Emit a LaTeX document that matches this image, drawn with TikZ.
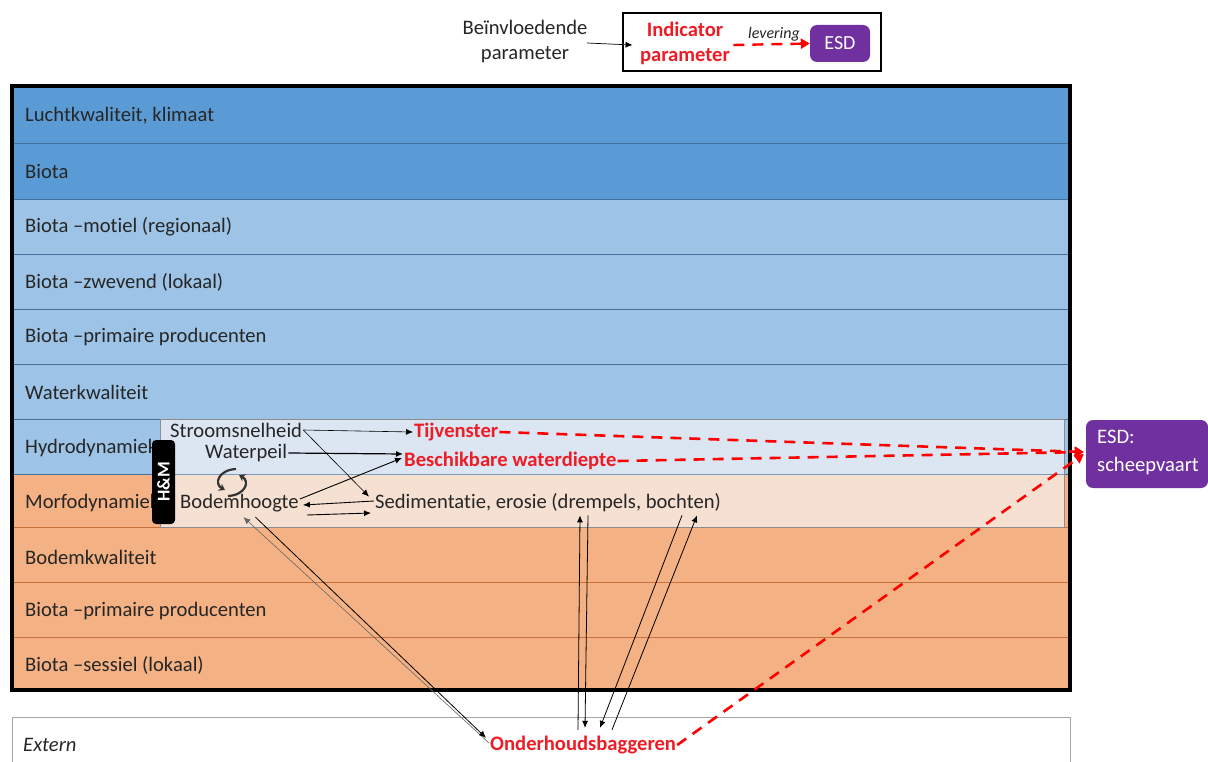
\documentclass[tikz,border=0pt]{standalone}
\usepackage{fontspec}
\setmainfont{Carlito}[Ligatures=NoCommon]
\usetikzlibrary{arrows.meta,calc}
\definecolor{dblue}{HTML}{5B9BD5}
\definecolor{lblue}{HTML}{9DC3E6}
\definecolor{pblue}{HTML}{DCE6F2}
\definecolor{orng}{HTML}{F4B183}
\definecolor{porng}{HTML}{F6E0D2}
\definecolor{bline}{HTML}{41719C}
\definecolor{oline}{HTML}{C8703A}
\definecolor{rtxt}{HTML}{EE1C25}
\definecolor{purp}{HTML}{7030A0}
\tikzset{
  bandlbl/.style={anchor=west, inner sep=0pt, font=\fontsize{20.6}{24}\selectfont, text=black!85},
  lbl/.style={anchor=west, inner sep=1pt, font=\fontsize{20.6}{24}\selectfont, text=black!85},
  rlbl/.style={anchor=west, inner sep=1pt, font=\fontsize{20.6}{24}\selectfont\bfseries, text=rtxt},
  arr/.style={-{Latex[length=7pt,width=6pt]}, line width=0.9pt},
  garr/.style={-{Latex[length=7pt,width=6pt]}, line width=0.6pt, draw=black!60},
  rdash/.style={draw=red, line width=2.6pt, dash pattern=on 11pt off 8pt, -{Triangle[length=9pt,width=10pt]}},
  esdbox/.style={fill=purp, rounded corners=7pt, text=white, font=\fontsize{20}{24}\selectfont},
}
\begin{document}
\begin{tikzpicture}[x=1pt,y=-1pt]
\useasboundingbox (0,0) rectangle (1208,762);
% bands
\fill[dblue] (12,86) rectangle (1070,199);
\fill[lblue] (12,199) rectangle (1070,474);
\fill[orng] (12,474) rectangle (1070,690);
\foreach \y in {143,199,254,309,364,419,474} \draw[bline,line width=0.8pt] (12,\y) -- (1070,\y);
\foreach \y in {527,582,637} \draw[oline,line width=0.8pt] (12,\y) -- (1070,\y);
% inner pane
\fill[pblue] (160,419) rectangle (1064,474);
\fill[porng] (160,474) rectangle (1064,527);
\draw[black!45,line width=0.7pt] (160,419) rectangle (1064,527);
\draw[bline!70,line width=0.6pt] (160,474) -- (1064,474);
% frame
\draw[line width=4pt] (12,86) rectangle (1070,690);
% extern
\draw[black!35,fill=white,line width=1pt] (12,717) -- (1070,717) -- (1070,770) (12,770) -- (12,717);
\node[lbl,font=\fontsize{20.6}{24}\selectfont\itshape] (ext) at (22,745) {Extern};
% band labels
\node[bandlbl] (b1) at (25,116) {Luchtkwaliteit, klimaat};
\node[bandlbl] (b2) at (25,171) {Biota};
\node[bandlbl] (b3) at (25,227) {Biota –motiel (regionaal)};
\node[bandlbl] (b4) at (25,282) {Biota –zwevend (lokaal)};
\node[bandlbl] (b5) at (25,337) {Biota –primaire producenten};
\node[bandlbl] (b6) at (25,392) {Waterkwaliteit};
\node[bandlbl] (b7) at (25,448) {Hydrodynamiek};
\node[bandlbl] (b8) at (25,503) {Morfodynamiek};
\node[bandlbl] (b9) at (25,557) {Bodemkwaliteit};
\node[bandlbl] (b10) at (25,611) {Biota –primaire producenten};
\node[bandlbl] (b11) at (25,665) {Biota –sessiel (lokaal)};
% H&M
\node[fill=black, rounded corners=4pt, minimum width=23pt, minimum height=84pt, inner sep=0pt] (hm) at (163.5,482) {};
\node[rotate=90, text=white, font=\fontsize{18}{20}\selectfont\bfseries, inner sep=0pt] (hmt) at (hm.center) {H\&M};
% inner texts
\node[lbl] (stroom) at (169,430) {Stroomsnelheid};
\node[lbl] (water) at (204,453) {Waterpeil};
\node[lbl] (bodem) at (179,503) {Bodemhoogte};
\node[lbl] (sed) at (374,503) {Sedimentatie, erosie (drempels, bochten)};
\node[rlbl] (tij) at (413,432) {Tijvenster};
\node[rlbl] (besch) at (403,461) {Beschikbare waterdiepte};
\node[rlbl] (onder) at (489,745) {Onderhoudsbaggeren};
% cycle glyph
\draw[line width=2.2pt,black!80,-{Stealth[length=6pt,width=8pt]}] (236,469) .. controls (218,470) and (214,484) .. (225,490);
\draw[line width=2.2pt,black!80,-{Stealth[length=6pt,width=8pt]}] (228,496) .. controls (246,495) and (250,481) .. (239,475);
% ESD
\node[esdbox, minimum width=122pt, minimum height=68pt, align=left, inner sep=0pt] (esd) at (1147,454) {};
\node[anchor=north west, inner sep=0pt, text=white, font=\fontsize{20.6}{28}\selectfont, align=left] (esdt) at (1097,430) {ESD:\\scheepvaart};
% legend
\draw[line width=1.2pt] (623,13) rectangle (881,71);
\node[font=\fontsize{20.6}{25}\selectfont, align=center, text=black!85] (bein) at (525,42) {Beïnvloedende\\parameter};
\node[font=\fontsize{20.6}{25}\selectfont\bfseries, align=center, text=rtxt] (ind) at (685,43) {Indicator\\parameter};
\node[esdbox, minimum width=60pt, minimum height=37pt, inner sep=0pt] (lesd) at (840,43.5) {ESD};
\node[font=\fontsize{16}{18}\selectfont\itshape, text=black!85, inner sep=0pt] (lev) at (774,34) {levering};
\draw[arr,line width=0.7pt] ($(bein.east)+(-4,1)$) -- ($(ind.west)+(-4,2)$);
\draw[rdash,line width=2.4pt] ($(ind.east)+(0,2)$) -- (lesd.west);
% black arrows
\draw[arr,line width=0.6pt] (stroom.east) -- (tij.west);
\draw[arr,line width=0.6pt] (stroom.east) -- ($(sed.north west)+(-5,4)$);
\draw[arr,line width=1.2pt] (water.east) -- ($(besch.west)+(0,-7)$);
\draw[arr] ($(bodem.east)+(0,-4)$) -- ($(besch.west)+(-1,-3)$);
\draw[arr] ($(sed.west)+(0,-2)$) -- ($(bodem.east)+(3,2)$);
\draw[arr] ($(bodem.east)+(7,12)$) -- ($(sed.west)+(-3,10)$);
\draw[garr] ($(onder.west)+(0,-2)$) -- ($(bodem.south)+(4,4)$);
\draw[arr,line width=0.8pt] ($(bodem.south)+(16,4)$) -- ($(onder.north west)+(-3,3)$);
\draw[arr,line width=0.8pt] ($(onder.north west)+(89,-5)$) -- ($(sed.south west)+(206,2)$);
\draw[arr,line width=0.8pt] ($(sed.south west)+(214,2)$) -- ($(onder.north west)+(96,-7)$);
\draw[arr,line width=0.8pt] ($(sed.south west)+(308,2)$) -- ($(onder.north west)+(111,-7)$);
\draw[arr,line width=0.8pt] ($(onder.north west)+(123,-5)$) -- ($(sed.south west)+(323,2)$);
% red dashed
\draw[rdash] (tij.east) -- ($(esd.west)+(-2,-2)$);
\draw[rdash] (besch.east) -- ($(esd.west)+(-2,-2)$);
\draw[rdash] ($(onder.east)+(0,0)$) -- ($(esd.west)+(-2,0)$);
\end{tikzpicture}
\end{document}
